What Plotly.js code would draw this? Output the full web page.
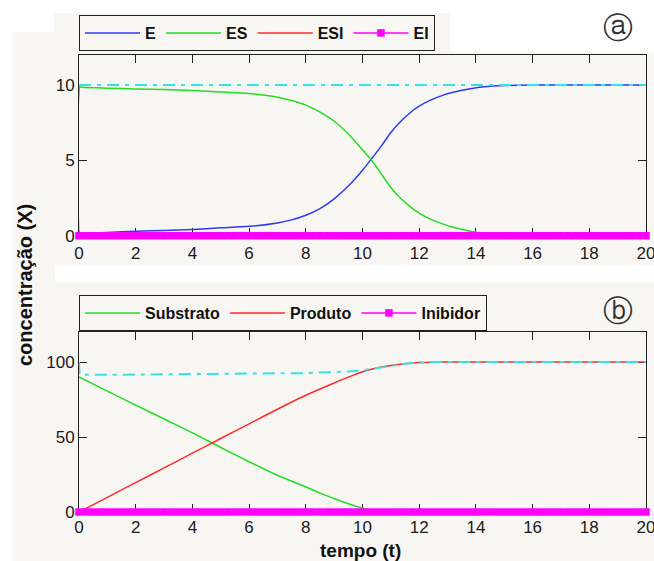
<!DOCTYPE html>
<html>
<head>
<meta charset="utf-8">
<script src="https://cdn.plot.ly/plotly-3.0.1.min.js"></script>
<style>html,body{margin:0;padding:0;background:#fff;}#chart{width:654px;height:561px;}</style>
</head>
<body>
<div id="chart"></div>
<script>
// ---- panel (a): enzyme species ----
const tA  = [0, 0.02, 0.2, 1, 2, 3, 4, 5, 6, 7, 7.5, 8, 8.5, 9, 9.5, 10, 10.3, 10.7, 11, 11.3, 11.7, 12, 12.4, 12.8, 13.2, 13.8, 14.5, 15, 16, 17, 18, 19, 20];
const E   = [10, 0.18, 0.19, 0.22, 0.3, 0.35, 0.42, 0.52, 0.62, 0.85, 1.05, 1.36, 1.8, 2.45, 3.3, 4.35, 5.06, 6.05, 6.85, 7.5, 8.2, 8.6, 9.0, 9.3, 9.52, 9.76, 9.92, 9.97, 10, 10, 10, 10, 10];
const ES  = [0, 9.85, 9.84, 9.8, 9.75, 9.71, 9.64, 9.55, 9.44, 9.2, 8.98, 8.67, 8.2, 7.6, 6.75, 5.7, 5.06, 4.0, 3.2, 2.55, 1.9, 1.5, 1.1, 0.8, 0.56, 0.3, 0.12, 0.05, 0.01, 0, 0, 0, 0];
const tESI = [0, 20];
const ESI  = [0, 0];
const tTotA = [0, 20];
const totA  = [10, 10];
// zero-valued species sampled by the solver (EI, Inibidor)
const tZ = [0,0.25,0.5,0.75,1,1.25,1.5,1.75,2,2.25,2.5,2.75,3,3.25,3.5,3.75,4,4.25,4.5,4.75,5,5.25,5.5,5.75,6,6.25,6.5,6.75,7,7.25,7.5,7.75,8,8.25,8.5,8.75,9,9.25,9.5,9.75,10,10.25,10.5,10.75,11,11.25,11.5,11.75,12,12.25,12.5,12.75,13,13.25,13.5,13.75,14,14.25,14.5,14.75,15,15.25,15.5,15.75,16,16.25,16.5,16.75,17,17.25,17.5,17.75,18,18.25,18.5,18.75,19,19.25,19.5,19.75,20];
const EI = [0,0,0,0,0,0,0,0,0,0,0,0,0,0,0,0,0,0,0,0,0,0,0,0,0,0,0,0,0,0,0,0,0,0,0,0,0,0,0,0,0,0,0,0,0,0,0,0,0,0,0,0,0,0,0,0,0,0,0,0,0,0,0,0,0,0,0,0,0,0,0,0,0,0,0,0,0,0,0,0,0];
const Inib = [0,0,0,0,0,0,0,0,0,0,0,0,0,0,0,0,0,0,0,0,0,0,0,0,0,0,0,0,0,0,0,0,0,0,0,0,0,0,0,0,0,0,0,0,0,0,0,0,0,0,0,0,0,0,0,0,0,0,0,0,0,0,0,0,0,0,0,0,0,0,0,0,0,0,0,0,0,0,0,0,0];

// ---- panel (b): substrate / product ----
const tS = [0, 1, 2, 3, 4, 5, 6, 7, 8, 8.5, 9, 9.5, 10, 10.5, 11];
const S  = [90, 80.6, 71.3, 62, 52.8, 43, 33.5, 24.5, 16.7, 12.6, 9, 5.5, 2.5, 0.6, 0];
const tP = [0, 1, 2, 3, 4, 5, 6, 7, 8, 9, 9.5, 10, 10.5, 11, 11.5, 12, 12.5, 13, 14, 20];
const P  = [0, 9.8, 19.6, 29.4, 39.2, 49, 58.8, 68.5, 77.8, 86, 89.9, 93.5, 96, 97.6, 98.8, 99.6, 99.9, 100, 100, 100];
const tTotB = [0, 0.02, 2, 4, 6, 7, 8, 8.5, 9, 9.5, 10, 10.5, 11, 11.5, 12, 12.5, 13, 14, 20];
const totB  = [100, 91.5, 91.6, 91.8, 92.1, 92.3, 92.6, 93, 93.3, 93.6, 94.5, 96.1, 97.6, 98.8, 99.6, 99.9, 100, 100, 100];

const xTicks = [0, 2, 4, 6, 8, 10, 12, 14, 16, 18, 20];
const yTicksA = [0, 5, 10];
const yTicksB = [0, 50, 100];

const BLUE = '#2b3cf2', GREEN = '#22dd22', RED = '#ff2b2b', MAG = '#ff00ff', CYAN = '#33e4e4';
const BG = '#f7f6f2';
const TICKFONT = {family: 'Liberation Sans, Arial, sans-serif', size: 17, color: '#1a1a1a'};
const LEGFONT = {family: 'Liberation Sans, Arial, sans-serif', size: 16, color: '#111', weight: 'bold'};
const DASHDOT = '12px,6px,4px,6px';

const traces = [
  {x: tA, y: E, name: 'E', mode: 'lines', line: {color: BLUE, width: 1.5, shape: 'spline', smoothing: 0.8}, xaxis: 'x', yaxis: 'y', legend: 'legend'},
  {x: tA, y: ES, name: 'ES', mode: 'lines', line: {color: GREEN, width: 1.5, shape: 'spline', smoothing: 0.8}, xaxis: 'x', yaxis: 'y', legend: 'legend'},
  {x: tESI, y: ESI, name: 'ESI', mode: 'lines', line: {color: RED, width: 1.5}, xaxis: 'x', yaxis: 'y', legend: 'legend'},
  {x: tZ, y: EI, name: 'EI', mode: 'lines+markers', line: {color: MAG, width: 1.5}, marker: {color: MAG, size: 7.5, symbol: 'square'}, cliponaxis: false, xaxis: 'x', yaxis: 'y', legend: 'legend'},
  {x: tTotA, y: totA, name: 'total', showlegend: false, mode: 'lines', line: {color: CYAN, width: 2, dash: DASHDOT}, xaxis: 'x', yaxis: 'y'},

  {x: tS, y: S, name: 'Substrato', mode: 'lines', line: {color: GREEN, width: 1.5, shape: 'spline', smoothing: 0.8}, xaxis: 'x2', yaxis: 'y2', legend: 'legend2'},
  {x: tP, y: P, name: 'Produto', mode: 'lines', line: {color: RED, width: 1.5, shape: 'spline', smoothing: 0.8}, xaxis: 'x2', yaxis: 'y2', legend: 'legend2'},
  {x: tZ, y: Inib, name: 'Inibidor', mode: 'lines+markers', line: {color: MAG, width: 1.5}, marker: {color: MAG, size: 7.5, symbol: 'square'}, cliponaxis: false, xaxis: 'x2', yaxis: 'y2', legend: 'legend2'},
  {x: tTotB, y: totB, name: 'total', showlegend: false, mode: 'lines', line: {color: CYAN, width: 2, dash: DASHDOT}, xaxis: 'x2', yaxis: 'y2'}
];

const axBase = {
  showline: true, mirror: 'ticks', linecolor: '#222', linewidth: 1,
  ticks: 'inside', ticklen: 8, tickcolor: '#222', tickwidth: 1,
  showgrid: false, zeroline: false, layer: 'below traces',
  tickfont: TICKFONT, fixedrange: true, ticklabeloverflow: 'allow'
};

// pixel -> paper helpers for decorations (plot area: x 79..646, y 55..512)
const L = 79, R = 8, T = 55, B = 49, W = 654, H = 561;
const PW = W - L - R, PH = H - T - B;
const px = v => (v - L) / PW;
const py = v => (H - B - v) / PH;
const whiteRect = (x0, y0, x1, y1) => ({type: 'rect', xref: 'paper', yref: 'paper', x0: px(x0), x1: px(x1), y0: py(y1), y1: py(y0), fillcolor: '#ffffff', line: {width: 0}, layer: 'below'});

const legBase = {
  orientation: 'h', xanchor: 'left', yanchor: 'top', x: 0,
  bgcolor: BG, bordercolor: '#222', borderwidth: 1,
  font: LEGFONT, itemwidth: 55, traceorder: 'normal'
};

const layout = {
  width: W, height: H,
  margin: {l: L, r: R, t: T, b: B, pad: 0},
  paper_bgcolor: BG, plot_bgcolor: BG,
  showlegend: true,
  xaxis: Object.assign({}, axBase, {domain: [0, 1], anchor: 'y', range: [0, 20], tickvals: xTicks, ticklabelstandoff: 2}),
  yaxis: Object.assign({}, axBase, {domain: [py(235.7), 1], anchor: 'x', range: [0, 12], tickvals: yTicksA}),
  xaxis2: Object.assign({}, axBase, {domain: [0, 1], anchor: 'y2', range: [0, 20], tickvals: xTicks, ticklabelstandoff: 0}),
  yaxis2: Object.assign({}, axBase, {domain: [0, py(332)], anchor: 'x2', range: [0, 120], tickvals: yTicksB}),
  legend: Object.assign({}, legBase, {y: py(15)}),
  legend2: Object.assign({}, legBase, {y: py(295)}),
  shapes: [
    whiteRect(0, 0, 654, 13),
    whiteRect(450, 0, 654, 52),
    whiteRect(0, 0, 54, 32),
    whiteRect(0, 0, 12, 561),
    whiteRect(55, 265, 654, 282)
  ],
  annotations: [
    {text: 'ⓐ', xref: 'paper', yref: 'paper', x: px(618), y: py(27), xanchor: 'center', yanchor: 'middle', showarrow: false,
     font: {family: 'DejaVu Sans', size: 30, color: '#333'}},
    {text: 'ⓑ', xref: 'paper', yref: 'paper', x: px(618), y: py(310), xanchor: 'center', yanchor: 'middle', showarrow: false,
     font: {family: 'DejaVu Sans', size: 30, color: '#333'}},
    {text: 'concentração (X)', xref: 'paper', yref: 'paper', x: px(25), y: py(285), xanchor: 'center', yanchor: 'middle', textangle: -90, showarrow: false,
     font: {family: 'Liberation Sans, Arial, sans-serif', size: 20, color: '#111', weight: 'bold'}},
    {text: 'tempo (t)', xref: 'paper', yref: 'paper', x: px(360), y: py(550), xanchor: 'center', yanchor: 'middle', showarrow: false,
     font: {family: 'Liberation Sans, Arial, sans-serif', size: 19, color: '#111', weight: 'bold'}}
  ]
};

Plotly.newPlot('chart', traces, layout, {displayModeBar: false, staticPlot: true});
</script>
</body>
</html>
